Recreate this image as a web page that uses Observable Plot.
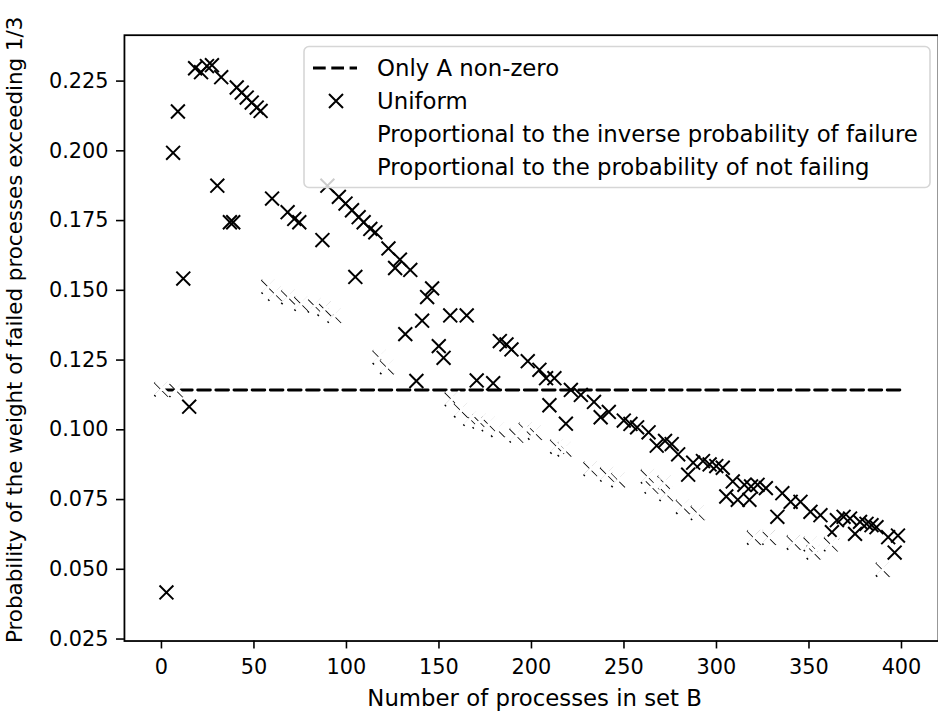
<!DOCTYPE html>
<html><head><meta charset="utf-8">
<script src="https://cdn.jsdelivr.net/npm/d3@7"></script>
<script src="https://cdn.jsdelivr.net/npm/@observablehq/plot@0.6"></script>
<style>
html,body{margin:0;padding:0;background:#fff;overflow:hidden;}
#wrap{position:relative;width:938px;height:719px;overflow:hidden;}
#wrap svg{font-family:"DejaVu Sans";}
</style></head><body><div id="wrap"></div>
<script>
const uniformX = [2.7,6.3,8.9,11.8,15,18.2,21.4,24.6,27.3,30.2,32.3,37,38.8,40.7,43.4,46.1,48.8,51.5,53.6,59.8,68.2,71.8,74.5,87,89.7,95.9,99.5,103,104.8,106.6,109.3,112.9,115.6,122.7,126.3,128.9,131.8,134.5,137.8,140.9,143.6,146.3,149.9,152.5,156.1,165,170.4,179.3,182.9,186.5,189.2,198,204.3,207.9,209.7,212.4,218.6,221.3,226.7,233.8,237.4,241.8,249.9,253.5,257.1,263.3,267.7,272.2,275.8,279.3,284.7,287.4,292.7,296.3,299.9,303.4,305.3,308.8,311.5,315.1,317.8,318.7,322.2,326.7,332.9,335.6,340.1,345.4,350.8,356.2,362.4,365.1,368.7,372.2,374.9,377.6,381.1,383.8,386.5,392.8,396.3,398.1];
const uniformY = [0.0417,0.1993,0.2141,0.1542,0.1083,0.2296,0.2282,0.2304,0.2307,0.1875,0.2264,0.1744,0.1744,0.2227,0.2209,0.2191,0.2173,0.2155,0.2143,0.1829,0.178,0.1756,0.1744,0.168,0.1875,0.1835,0.1811,0.1787,0.1548,0.1762,0.1744,0.172,0.1708,0.165,0.158,0.161,0.1343,0.1573,0.1175,0.1391,0.1476,0.1507,0.130,0.1258,0.141,0.141,0.1177,0.1167,0.1318,0.1306,0.1288,0.1246,0.1215,0.1185,0.1088,0.1185,0.1022,0.1143,0.1125,0.1100,0.1045,0.1064,0.1033,0.1021,0.1009,0.0991,0.0943,0.096,0.0949,0.0912,0.0839,0.0882,0.0888,0.0876,0.087,0.0864,0.0761,0.0815,0.0749,0.0803,0.0749,0.0797,0.0803,0.0791,0.0688,0.0773,0.0742,0.0742,0.0706,0.0694,0.0633,0.0676,0.0688,0.0682,0.0627,0.067,0.0663,0.0658,0.0651,0.0615,0.056,0.0621];
// the two other series (white markers, nearly invisible)
const faintX = [0,8,57.9,61.5,68.6,75.7,82.9,88.2,93.6,118,122,157,162,167,172,177,182,192,197,202,214,218,232,241,247,263,265,272,273,282,290,320.4,328.5,341.9,351,352.6,362,390];
const faintY = [0.1145,0.1143,0.1513,0.1488,0.1476,0.1452,0.1446,0.1434,0.1409,0.126,0.1225,0.111,0.107,0.104,0.103,0.102,0.100,0.098,0.100,0.099,0.094,0.093,0.086,0.084,0.082,0.0833,0.0797,0.081,0.077,0.0724,0.0702,0.0614,0.0614,0.0596,0.059,0.0561,0.059,0.0499];
const onlyAX = [0, 400];
const onlyAY = [0.1143, 0.1143];
const xTicks = [0,50,100,150,200,250,300,350,400];
const yTicks = [0.025,0.050,0.075,0.100,0.125,0.150,0.175,0.200,0.225];
const legendLabels = ["Only A non-zero","Uniform","Proportional to the inverse probability of failure","Proportional to the probability of not failing"];
const xLabel = "Number of processes in set B";
const yLabel = "Probability of the weight of failed processes exceeding 1/3";

const uniform = uniformX.map((x,i)=>({x, y: uniformY[i]}));
const faint = faintX.map((x,i)=>({x, y: faintY[i]}));
const onlyA = onlyAX.map((x,i)=>({x, y: onlyAY[i]}));

const cross = {draw(ctx, size){const h=Math.sqrt(size/Math.PI); ctx.moveTo(-h,-h); ctx.lineTo(h,h); ctx.moveTo(h,-h); ctx.lineTo(-h,h);}};

const chart = Plot.plot({
  width: 946, height: 719,
  marginLeft: 125, marginRight: 0, marginTop: 35, marginBottom: 73,
  style: {fontFamily: "DejaVu Sans", fontSize: "21px", background: "white", color: "black", overflow: "visible"},
  x: {domain: [-20, 420]},
  y: {domain: [0.02429, 0.24145]},
  marks: [
    Plot.line(onlyA, {x: "x", y: "y", stroke: "black", strokeWidth: 3, strokeDasharray: "12.7,5.6"}),
    Plot.dot(uniform, {x: "x", y: "y", symbol: cross, r: 7, stroke: "black", fill: "none", strokeWidth: 2}),
    Plot.dot(faint, {x: "x", y: "y", symbol: cross, r: 7, stroke: "black", fill: "none", strokeWidth: 2}),
    Plot.dot(faint, {x: "x", y: "y", symbol: cross, r: 7, stroke: "white", fill: "none", strokeWidth: 3.2, dx: 1.2, dy: -0.8}),
    Plot.frame({stroke: "black", strokeWidth: 1.8}),
    Plot.axisX(xTicks, {tickSize: 8, tickPadding: 10, strokeWidth: 1.6, fontSize: 21, label: null}),
    Plot.axisY(yTicks, {tickSize: 8, tickPadding: 8, strokeWidth: 1.6, fontSize: 21, label: null, tickFormat: d3.format(".3f")}),
    Plot.text([xLabel], {frameAnchor: "bottom-left", dx: 370 - 125, dy: 66, textAnchor: "start", text: d => d, fontSize: 23}),
    Plot.text([yLabel], {frameAnchor: "bottom-left", dx: -103, dy: 2, rotate: -90, textAnchor: "start", text: d => d, fontSize: 21.6})
  ]
});
document.getElementById("wrap").appendChild(chart);

// legend (matplotlib style box, upper right)
const lg = d3.select("#wrap").append("svg").attr("width",938).attr("height",719)
  .style("position","absolute").style("left","0px").style("top","0px").style("font-family","DejaVu Sans");
lg.append("rect").attr("x",304).attr("y",46.5).attr("width",626).attr("height",141).attr("rx",5)
  .attr("fill","white").attr("fill-opacity",0.8).attr("stroke","#d6d6d6").attr("stroke-width",1.6);
const rowY = [68, 101, 134, 167];
lg.append("line").attr("x1",313).attr("x2",357).attr("y1",rowY[0]).attr("y2",rowY[0])
  .attr("stroke","black").attr("stroke-width",3).attr("stroke-dasharray","12.7,5.6");
lg.append("path").attr("d",`M${336-7},${rowY[1]-7}L${336+7},${rowY[1]+7}M${336+7},${rowY[1]-7}L${336-7},${rowY[1]+7}`)
  .attr("stroke","black").attr("stroke-width",2).attr("fill","none");
legendLabels.forEach((t,i)=>{
  lg.append("text").attr("x",377).attr("y",rowY[i]).attr("dy","0.35em").attr("font-size",22.8).attr("fill","black").text(t);
});
</script></body></html>
